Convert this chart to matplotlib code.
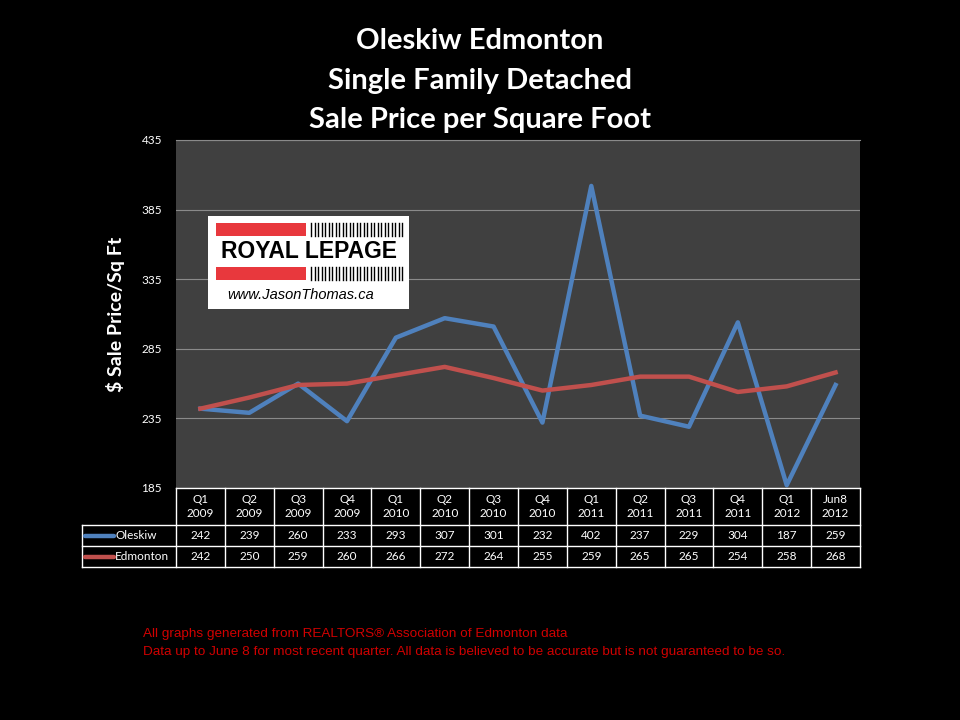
import matplotlib.pyplot as plt
import matplotlib.patches as patches
import numpy as np

# data
quarters = ['Q1\n2009', 'Q2\n2009', 'Q3\n2009', 'Q4\n2009', 'Q1\n2010', 'Q2\n2010', 'Q3\n2010',
            'Q4\n2010', 'Q1\n2011', 'Q2\n2011', 'Q3\n2011', 'Q4\n2011', 'Q1\n2012', 'Jun8\n2012']
oleskiw = [242, 239, 260, 233, 293, 307, 301, 232, 402, 237, 229, 304, 187, 259]
edmonton = [242, 250, 259, 260, 266, 272, 264, 255, 259, 265, 265, 254, 258, 268]
series_names = ['Oleskiw', 'Edmonton']
series_colors = ['#4F81BD', '#C0504D']
yticks = [185, 235, 285, 335, 385, 435]

plt.rcParams['font.family'] = ['Lato', 'DejaVu Sans']

W, H = 960, 720
fig = plt.figure(figsize=(9.6, 7.2), dpi=100, facecolor='black')

def fx(px):
    return px / W

def fy(py):
    return 1 - py / H

# plot area
x0, x1, ytop, ybot = 176, 860, 140, 488
ax = fig.add_axes([fx(x0), fy(ybot), fx(x1) - fx(x0), fy(ytop) - fy(ybot)])
ax.set_facecolor('#404040')
n = len(quarters)
xs = np.arange(n) + 0.5
for vals, c in zip([oleskiw, edmonton], series_colors):
    ax.plot(xs, vals, color=c, lw=3.2, solid_joinstyle='round', zorder=3)
ax.set_xlim(0, n)
ax.set_ylim(185, 435)
ax.set_yticks(yticks)
ax.yaxis.grid(True, color='#8a8a8a', lw=0.8)
ax.set_axisbelow(True)
ax.set_xticks([])
ax.tick_params(axis='y', length=0, colors='white', labelsize=8.5, pad=10)
for s in ['left', 'right', 'bottom']:
    ax.spines[s].set_visible(False)
ax.spines['top'].set_color('#8a8a8a')
ax.set_ylabel('\\$ Sale Price/Sq Ft', color='white', fontsize=14, fontweight='bold', labelpad=12)

# title
for i, t in enumerate(['Oleskiw Edmonton', 'Single Family Detached', 'Sale Price per Square Foot']):
    fig.text(0.5, fy(41 + 39.5 * i), t, color='white', fontsize=21, fontweight='bold',
             ha='center', va='center')

# data table below the plot
tax = fig.add_axes([0, 0, 1, 1], facecolor='none')
tax.set_xlim(0, W)
tax.set_ylim(H, 0)
tax.axis('off')
colw = (x1 - x0) / n
rows = [488, 525, 546, 567]
lc = 'white'
lw = 1.0
tax.plot([x0, x1], [rows[0], rows[0]], color=lc, lw=lw)
for r in rows[1:]:
    tax.plot([82, x1], [r, r], color=lc, lw=lw)
tax.plot([82, 82], [rows[1], rows[3]], color=lc, lw=lw)
for i in range(n + 1):
    tax.plot([x0 + i * colw] * 2, [rows[0], rows[3]], color=lc, lw=lw)
for i, q in enumerate(quarters):
    cx = x0 + (i + 0.5) * colw
    tax.text(cx, (rows[0] + rows[1]) / 2, q, color='white', fontsize=8.5,
             ha='center', va='center', linespacing=1.4)
    for k, vals in enumerate([oleskiw, edmonton]):
        tax.text(cx, (rows[k + 1] + rows[k + 2]) / 2, str(vals[i]), color='white',
                 fontsize=8.5, ha='center', va='center')
for k, (name, c) in enumerate(zip(series_names, series_colors)):
    cy = (rows[k + 1] + rows[k + 2]) / 2
    tax.plot([85, 114], [cy, cy], color=c, lw=3.2, solid_capstyle='round')
    tax.text(115, cy, name, color='white', fontsize=8.5, ha='left', va='center')

# logo
tax.add_patch(patches.Rectangle((208, 216), 201, 93, facecolor='white', edgecolor='none', zorder=5))
tax.add_patch(patches.Rectangle((216, 223), 90, 13, facecolor='#E8383D', edgecolor='none', zorder=6))
tax.add_patch(patches.Rectangle((216, 267), 90, 13, facecolor='#E8383D', edgecolor='none', zorder=6))
for j in range(27):
    bx = 311 + j * 3.5
    tax.plot([bx, bx], [223, 236], color='black', lw=1.0, zorder=6)
    tax.plot([bx, bx], [267, 280], color='black', lw=1.0, zorder=6)
tax.text(309, 252, 'ROYAL LEPAGE', color='black', fontsize=16.5, fontweight='bold',
         ha='center', va='center', family=['Liberation Sans', 'DejaVu Sans'], zorder=7)
tax.text(301, 295, 'www.JasonThomas.ca', color='black', fontsize=10.5, style='italic',
         ha='center', va='center', family=['Liberation Sans', 'DejaVu Sans'], zorder=7)

# footer
foot = ['All graphs generated from REALTORS\u00ae Association of Edmonton data',
        'Data up to June 8 for most recent quarter. All data is believed to be accurate but is not guaranteed to be so.']
for i, t in enumerate(foot):
    tax.text(143, 634 + 18 * i, t, color='#D00000', fontsize=9.7,
             ha='left', va='center', family=['Liberation Sans Narrow', 'Liberation Sans', 'DejaVu Sans'])

fig.savefig('out.png', dpi=100, facecolor='black')
